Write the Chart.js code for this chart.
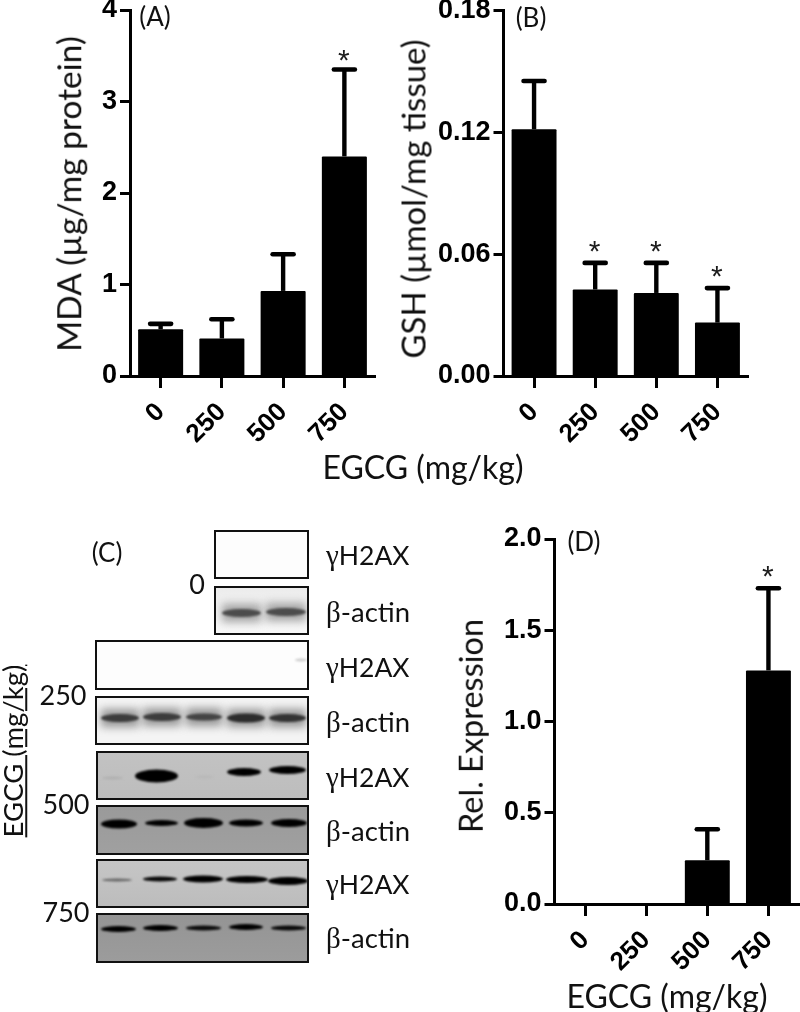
<!DOCTYPE html>
<html><head><meta charset="utf-8">
<script src="https://cdn.jsdelivr.net/npm/chart.js@4"></script>
<style>
html,body{margin:0;padding:0;background:#fff;width:800px;height:1012px;overflow:hidden}
canvas{position:absolute;display:block}
.t{position:absolute;font-family:Lato,sans-serif;color:#111;white-space:nowrap;transform:translate(-50%,-50%);line-height:1}
.r{transform:translate(-50%,-50%) rotate(-90deg)}
.g{font-family:"Liberation Serif",serif}
#wrap{position:relative;width:800px;height:1012px}
</style></head><body><div id="wrap">
<canvas id="blot" width="430" height="1012" style="left:0;top:0;width:430px;height:1012px"></canvas>
<canvas id="ca" style="left:0;top:0;width:400px;height:450px"></canvas>
<canvas id="cb" style="left:400px;top:0;width:400px;height:450px"></canvas>
<canvas id="cd" style="left:440px;top:520px;width:360px;height:470px"></canvas>
</div>
<script>
// ---- data ----
const doses = ['0','250','500','750'];
const mdaMean = [0.51,0.41,0.93,2.40];
const mdaTop  = [0.57,0.62,1.33,3.35];
const mdaSig  = ['','','','*'];
const gshMean = [0.1215,0.0426,0.0409,0.0263];
const gshTop  = [0.1453,0.0557,0.0557,0.0433];
const gshSig  = ['','*','*','*'];
const relMean = [0,0,0.24,1.28];
const relTop  = [0,0,0.41,1.73];
const relSig  = ['','','','*'];

const tickFont = 'Liberation Sans';
const errorPlugin = {
  id:'err',
  afterDatasetsDraw(chart,a,opts){
    const {ctx,scales:{x,y}} = chart;
    ctx.save();
    ctx.strokeStyle='#000';
    opts.tops.forEach((top,i)=>{
      if(!(top>0)) return;
      const px=x.getPixelForValue(i), yT=y.getPixelForValue(top), yB=y.getPixelForValue(opts.means[i]);
      ctx.lineCap='butt';ctx.lineWidth=4.4;
      ctx.beginPath();ctx.moveTo(px,yB);ctx.lineTo(px,yT);ctx.stroke();
      ctx.lineCap='round';ctx.lineWidth=4.6;
      ctx.beginPath();ctx.moveTo(px-10.5,yT);ctx.lineTo(px+10.5,yT);ctx.stroke();
      if(opts.sig[i]){
        ctx.fillStyle='#1c1c1c';ctx.font='30px "Liberation Sans"';ctx.textAlign='center';ctx.textBaseline='alphabetic';
        ctx.fillText(opts.sig[i],px-0.5,yT+opts.sigGap);
      }
    });
    ctx.restore();
  }
};
function bar(id,axisW,axisH,top,mean,tops,sig,yMax,step,dec,sigGap){
  return new Chart(document.getElementById(id),{
    type:'bar',
    data:{labels:doses,datasets:[{data:mean,backgroundColor:'#000',borderWidth:0,barPercentage:0.735,categoryPercentage:1,borderRadius:1}]},
    plugins:[errorPlugin],
    options:{
      responsive:false,animation:false,
      layout:{padding:{top:top,right:axisW.right,left:0,bottom:0}},
      plugins:{legend:{display:false},tooltip:{enabled:false},err:{tops:tops,means:mean,sig:sig,sigGap:sigGap}},
      scales:{
        x:{type:'category',
          grid:{display:true,offset:false,drawOnChartArea:false,drawTicks:true,tickLength:12,tickWidth:3,tickColor:'#000'},
          border:{display:true,color:'#000',width:3},
          ticks:{color:'#000',font:{family:tickFont,weight:'bold',size:26},minRotation:45,maxRotation:45,padding:9,autoSkip:false},
          afterFit(s){s.height=axisH;s.paddingLeft=0;s.paddingRight=0;}
        },
        y:{type:'linear',min:0,max:yMax,
          grid:{display:true,drawOnChartArea:false,drawTicks:true,tickLength:10,tickWidth:3,tickColor:'#000'},
          border:{display:true,color:'#000',width:3},
          ticks:{stepSize:step,color:'#000',font:{family:tickFont,weight:'bold',size:27},padding:3,callback:v=>Number(v).toFixed(dec)},
          afterFit(s){s.width=axisW.left;s.paddingTop=0;s.paddingBottom=0;}
        }
      }
    }
  });
}
function size(id,w,h){const c=document.getElementById(id);c.width=w;c.height=h;}
size('ca',400,450);size('cb',400,450);size('cd',360,470);
bar('ca',{left:130,right:25},74,10,mdaMean,mdaTop,mdaSig,4,1,0,1);
bar('cb',{left:103.5,right:52},74,10.5,gshMean,gshTop,gshSig,0.18,0.06,2,-2);
bar('cd',{left:114.5,right:1},86,19,relMean,relTop,relSig,2,0.5,1,-2);

// ---- text labels ----
const labels = [
 ['MDA (µg/mg protein)',69,194,33.5,1],
 ['GSH (µmol/mg tissue)',413,199,33,1],
 ['Rel. Expression',471,726,32.5,1],
 ['(A)',155,16,26,0],['(B)',531,17,26,0],['(C)',107,552,26,0],['(D)',584,541,26,0],
 ['EGCG (mg/kg)',423,467,32,0],['EGCG (mg/kg)',667,996,32,0],
 ['EGCG (mg/kg)',13,751,27.5,1],
 ['0',197,583,27,0],['250',63,694,27,0],['500',66,803,27,0],['750',66,911,27,0]
];
const wrap=document.getElementById('wrap');
labels.forEach(([s,x,y,f,r])=>{
  const d=document.createElement('div');d.className='t'+(r?' r':'');
  d.textContent=s;d.style.left=x+'px';d.style.top=y+'px';d.style.fontSize=f+'px';
  if(s==='EGCG (mg/kg)'&&r){d.style.textDecoration='underline';}
  wrap.appendChild(d);
});
const blotNames=[['γ','H2AX',555],['β','-actin',612],['γ','H2AX',667],['β','-actin',722],['γ','H2AX',777],['β','-actin',831],['γ','H2AX',884],['β','-actin',938]];
blotNames.forEach(([g,s,y])=>{
  const d=document.createElement('div');d.className='t';
  d.style.transform='translate(0,-50%)';d.style.left='326px';d.style.top=y+'px';d.style.fontSize=(g==='γ'?'26.5px':'27.5px');
  d.innerHTML='<span class="g" style="font-size:29px">'+g+'</span>'+s;wrap.appendChild(d);
});

// ---- western blot strips, painted as an image ----
const blots=[
 {box:[215,531,93,47],bg:['#fdfdfd','#fdfdfd'],bands:[]},
 {box:[215,587,93,47],bg:['#ececec','#f8f8f8'],halo:'rgba(110,110,110,.6)',bands:[[222,261,613,8,'#4c4c4c'],[266,306,612,8,'#4c4c4c']]},
 {box:[96,641,212,48],bg:['#fdfdfd','#fdfdfd'],bands:[[295,307,660,3,'#ccc']]},
 {box:[96,697,212,47],bg:['#f4f4f4','#f4f4f4'],halo:'rgba(100,100,100,.65)',bands:[[101,139,718,8,'#3c3c3c'],[143,181,717,8,'#3c3c3c'],[186,222,717,7,'#444'],[227,265,718,9,'#2c2c2c'],[269,306,718,8,'#333']]},
 {box:[97,752,211,47],bg:['#c2c2c2','#bdbdbd'],bands:[[102,123,778,3,'#b0b0b0'],[135,178,776,13,'#000'],[196,213,777,3,'#b8b8b8'],[227,261,772,8,'#000'],[269,306,770,8,'#000']]},
 {box:[97,806,211,48],bg:['#9a9a9a','#a0a0a0'],bands:[[101,137,824,9,'#000'],[145,178,823,6,'#000'],[184,223,823,10,'#000'],[229,263,823,7,'#000'],[271,307,823,8,'#000']]},
 {box:[97,860,211,47],bg:['#c6c6c6','#bcbcbc'],bands:[[102,132,880,3,'#666'],[143,177,879,5,'#0a0a0a'],[183,223,879,7,'#000'],[226,268,879.5,7,'#000'],[268,308,881,8,'#000']]},
 {box:[97,914,211,48],bg:['#949494','#9c9c9c'],bands:[[101,136,929,6,'#000'],[143,178,928,6,'#000'],[186,221,928,5,'#0c0c0c'],[229,263,927,6,'#000'],[271,306,928,5,'#0a0a0a']]}
];
const bc=document.getElementById('blot').getContext('2d');
function band(c,x0,x1,cy,th){c.beginPath();c.ellipse((x0+x1)/2,cy,(x1-x0)/2,th/2,0,0,Math.PI*2);c.fill();}
blots.forEach(b=>{
  const [x,y,w,h]=b.box;
  bc.save();bc.beginPath();bc.rect(x,y,w,h);bc.clip();
  const g=bc.createLinearGradient(x,y,x,y+h);g.addColorStop(0,b.bg[0]);g.addColorStop(1,b.bg[1]);
  bc.fillStyle=g;bc.fillRect(x,y,w,h);
  if(b.halo){bc.filter='blur(4px)';bc.fillStyle=b.halo;b.bands.forEach(k=>{bc.fillRect(k[0],k[2]-9,k[1]-k[0],18);});}
  bc.filter='blur(1.1px)';
  b.bands.forEach(k=>{bc.fillStyle=k[4];band(bc,k[0],k[1],k[2],k[3]);});
  bc.filter='none';bc.restore();
  bc.strokeStyle='#111';bc.lineWidth=2;bc.strokeRect(x,y,w,h);
});
</script></body></html>
